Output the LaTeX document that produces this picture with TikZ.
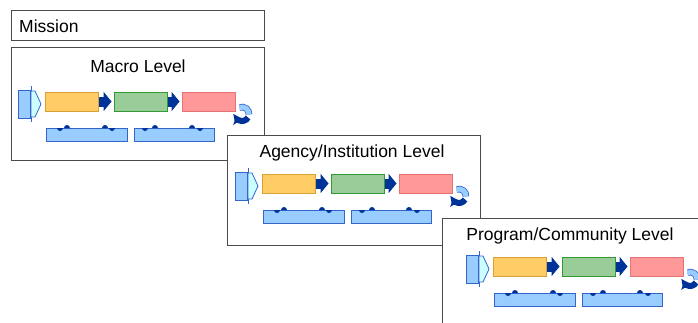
\documentclass[tikz,border=0pt]{standalone}
\usepackage{fontspec}
\setmainfont{Liberation Sans}
\usetikzlibrary{arrows.meta}

\definecolor{frameline}{HTML}{4A4A4A}
\definecolor{stageorange}{HTML}{FFCC66}
\definecolor{orangeline}{HTML}{D9A033}
\definecolor{stagegreen}{HTML}{99CC99}
\definecolor{greenline}{HTML}{339933}
\definecolor{stagered}{HTML}{FF9999}
\definecolor{redline}{HTML}{E57373}
\definecolor{barblue}{HTML}{99CCFF}
\definecolor{barline}{HTML}{3366CC}
\definecolor{flowblue}{HTML}{003399}
\definecolor{palecyan}{HTML}{CCFFFF}

\tikzset{
  frame/.style={draw=frameline, line width=1pt, fill=white},
  stagebox/.style={minimum width=53pt, minimum height=19pt, inner sep=0pt, line width=0.9pt},
  barbox/.style={fill=barblue, draw=barline, line width=0.9pt, minimum height=13pt, inner sep=0pt},
  flow/.style={draw=flowblue, line width=10pt, -{Triangle[width=19pt,length=8pt]}, shorten <=1pt, shorten >=2pt},
  title/.style={font=\fontsize{17.5}{20}\selectfont, text=black, inner sep=0pt, anchor=base}
}

% one row of stages, #1 = name prefix, #2 = shift
\newcommand{\levelrow}[2]{%
  \begin{scope}[shift={#2}]
    % entry icon
    \filldraw[fill=barblue, draw=barline, line width=0.8pt] (18,90) rectangle (30,118);
    \draw[barline, line width=0.8pt] (31,86) -- (31,122);
    \filldraw[fill=palecyan, draw=barline, line width=0.8pt] (31,91) -- (35,91) -- (41,104) -- (35,117) -- (31,117) -- cycle;
    % stages
    \node[stagebox, fill=stageorange, draw=orangeline] (#1orange) at (71.5,101.5) {};
    \node[stagebox, fill=stagegreen, draw=greenline] (#1green) at (140.5,101.5) {};
    \node[stagebox, fill=stagered, draw=redline] (#1red) at (208.5,101.5) {};
    \draw[flow] (#1orange) -- (#1green);
    \draw[flow] (#1green) -- (#1red);
    % feedback loop
    \draw[barline, line width=0.8pt, double=barblue, double distance=5pt] (242,114) ++(-110:7) arc[start angle=-110, end angle=5, radius=7];
    \draw[flowblue, line width=6pt, -{Triangle[width=12pt,length=5pt]}] (242,114) ++(30:7) arc[start angle=30, end angle=150, radius=7];
    % support bars
    \node[barbox, minimum width=81pt] (#1bara) at (87,134.5) {};
    \node[barbox, minimum width=80pt] (#1barb) at (174,134.5) {};
    \foreach \nx/\nd in {60/0, 67/1, 105/1, 112/0, 145/0, 155/1, 192/1, 200/0}
      \fill[flowblue] (\nx-3,128) arc[start angle=180, end angle={360*\nd}, radius=3];
  \end{scope}}

\begin{document}
\begin{tikzpicture}[x=1pt, y=-1pt]
  \useasboundingbox (0,0) rectangle (698,322);
  \clip (0,0) rectangle (698,322);

  % Mission
  \draw[frame] (11,10) rectangle (264,40);
  \node[title, anchor=base west] (mission) at (19,32) {Mission};

  % Macro level
  \draw[frame] (11,47) rectangle (264,160);
  \node[title] (macrotitle) at (138,72) {Macro Level};
  \levelrow{macro}{(0,0)}

  % Agency level
  \draw[frame] (227,135) rectangle (480,245);
  \node[title] (agencytitle) at (352,157) {Agency/Institution Level};
  \levelrow{agency}{(217,82)}

  % Program level
  \draw[frame] (442,218) rectangle (720,340);
  \node[title] (programtitle) at (570,240) {Program/Community Level};
  \levelrow{program}{(448,165)}
\end{tikzpicture}
\end{document}
